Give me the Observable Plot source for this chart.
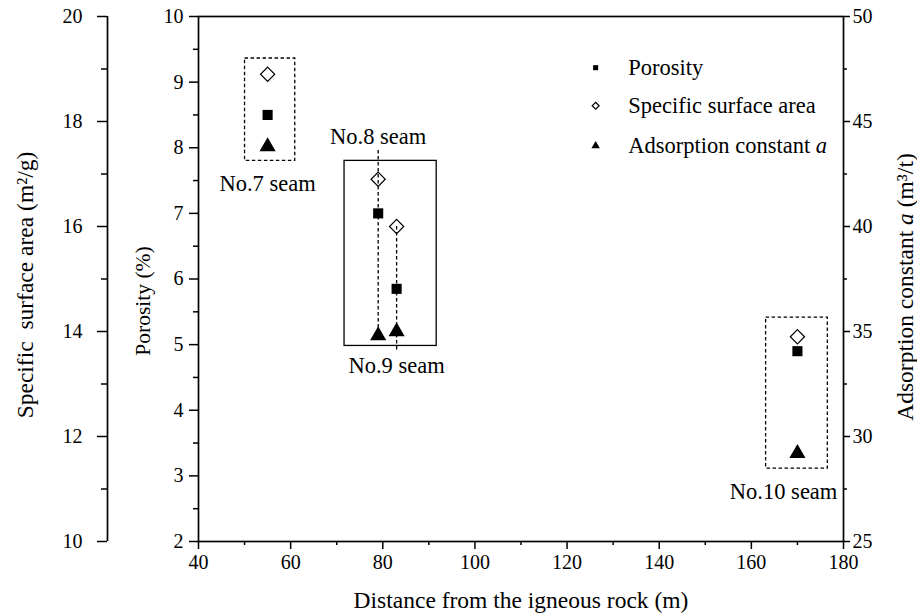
<!DOCTYPE html>
<html>
<head>
<meta charset="utf-8">
<script src="https://cdn.jsdelivr.net/npm/d3@7"></script>
<script src="https://cdn.jsdelivr.net/npm/@observablehq/plot@0.6"></script>
<style>
html, body { margin: 0; padding: 0; background: #fff; }
#chart svg { display: block; }
</style>
</head>
<body>
<div id="chart"></div>
<script>
// ---- data ----
const seams = ["No.7 seam", "No.8 seam", "No.9 seam", "No.10 seam"];
const distance = [55, 79, 83, 170];
const porosity = [8.5, 7.0, 5.85, 4.9];
const surfaceArea = [18.9, 16.9, 16.0, 13.9];
const adsorptionA = [43.8, 34.8, 35.0, 29.2];

// ---- ticks ----
const xTicks = [40, 60, 80, 100, 120, 140, 160, 180];
const xMinorTicks = [50, 70, 90, 110, 130, 150, 170];
const porosityTicks = [2, 3, 4, 5, 6, 7, 8, 9, 10];
const porosityMinorTicks = [2.5, 3.5, 4.5, 5.5, 6.5, 7.5, 8.5, 9.5];
const surfaceTicks = [10, 12, 14, 16, 18, 20];
const surfaceMinorTicks = [11, 13, 15, 17, 19];
const adsorptionTicks = [25, 30, 35, 40, 45, 50];
const adsorptionMinorTicks = [27.5, 32.5, 37.5, 42.5, 47.5];

// ---- legend ----
const legendLabels = ["Porosity", "Specific surface area", "Adsorption constant a"];
const legendSymbols = ["square", "diamond2", "triangle"];
const legendFills = ["black", "none", "black"];

// ---- annotations (distance / porosity units) ----
const dashedBoxX1 = [50.1, 163.2];
const dashedBoxX2 = [61.0, 176.6];
const dashedBoxY1 = [7.8, 3.11];
const dashedBoxY2 = [9.36, 5.41];
const solidBoxX1 = [71.7];
const solidBoxX2 = [91.7];
const solidBoxY1 = [4.98];
const solidBoxY2 = [7.8];
const labelX = [55, 79, 83, 167];
const labelY = [7.45, 8.16, 4.68, 2.75];
const leaderX = [79, 83];
const leaderY1 = [7.96, 6.8];
const leaderY2 = [5.11, 4.91];
const legendX = 126.2, legendTextX = 133.3;
const legendY = [9.22, 8.64, 8.03];

// ---- secondary scale conversions onto the porosity axis (2..10) ----
const sToP = s => 2 + (s - 10) * 8 / 10;
const pToS = p => 10 + (p - 2) * 10 / 8;
const aToP = a => 2 + (a - 25) * 8 / 25;
const pToA = p => 25 + (p - 2) * 25 / 8;

const rows = seams.map((s, i) => ({seam: s, distance: distance[i], porosity: porosity[i], surface: surfaceArea[i], a: adsorptionA[i]}));
const dashedBoxes = dashedBoxX1.map((d, i) => ({x1: d, x2: dashedBoxX2[i], y1: dashedBoxY1[i], y2: dashedBoxY2[i]}));
const solidBoxes = solidBoxX1.map((d, i) => ({x1: d, x2: solidBoxX2[i], y1: solidBoxY1[i], y2: solidBoxY2[i]}));
const labels = seams.map((s, i) => ({text: s, x: labelX[i], y: labelY[i]}));
const leaders = leaderX.map((x, i) => ({x, y1: leaderY1[i], y2: leaderY2[i]}));
const legend = legendLabels.map((l, i) => ({label: l, symbol: legendSymbols[i], fill: legendFills[i], y: legendY[i]}));

const W = 917, H = 615;
const mL = 198, mR = 74, mT = 16, mB = 74;
const FONT = "'Liberation Serif', 'Times New Roman', serif";
const TICK_FS = 20;
const ANN_FS = 22.5;
const TITLE_FS = 23.5;

const chart = Plot.plot({
  width: W, height: H,
  marginLeft: mL, marginRight: mR, marginTop: mT, marginBottom: mB,
  style: {fontFamily: FONT, fontSize: TICK_FS + "px", color: "black", background: "white"},
  x: {domain: [40, 180], label: null},
  y: {domain: [2, 10], label: null},
  symbol: {type: "identity"},
  marks: [
    // x axis
    Plot.axisX({ticks: xTicks, tickSize: 8, tickPadding: 5, strokeWidth: 1.5, fontSize: TICK_FS, label: null, tickFormat: d => String(d)}),
    Plot.axisX({ticks: xMinorTicks, tickSize: 4, strokeWidth: 1.5, label: null, tickFormat: () => ""}),
    // porosity axis (left, on frame)
    Plot.axisY({ticks: porosityTicks, tickSize: 9, tickPadding: 6, strokeWidth: 1.5, fontSize: TICK_FS, label: null, tickFormat: d => String(d)}),
    Plot.axisY({ticks: porosityMinorTicks, tickSize: 5, strokeWidth: 1.5, label: null, tickFormat: () => ""}),
    // specific surface area axis (outer left)
    Plot.ruleX([40], {y1: 2, y2: 10, dx: -91, strokeWidth: 1.7}),
    Plot.axisY({ticks: surfaceTicks.map(sToP), tickSize: 10, tickPadding: 15, dx: -91, strokeWidth: 1.5, fontSize: TICK_FS, label: null, tickFormat: p => String(Math.round(pToS(p)))}),
    Plot.axisY({ticks: surfaceMinorTicks.map(sToP), tickSize: 6, dx: -91, strokeWidth: 1.5, label: null, tickFormat: () => ""}),
    // adsorption axis (right)
    Plot.axisY({anchor: "right", ticks: adsorptionTicks.map(aToP), tickSize: 6, tickPadding: 3, strokeWidth: 1.5, fontSize: TICK_FS, label: null, tickFormat: p => String(Math.round(pToA(p)))}),
    Plot.axisY({anchor: "right", ticks: adsorptionMinorTicks.map(aToP), tickSize: 3, strokeWidth: 1.5, label: null, tickFormat: () => ""}),
    Plot.frame({stroke: "black", strokeWidth: 1.7}),

    // axis titles
    Plot.text(["Specific  surface area (m²/g)"], {frameAnchor: "left", textAnchor: "middle", lineAnchor: "middle", dx: 25 - mL, dy: 6, rotate: -90, fontSize: TITLE_FS, text: d => d}),
    Plot.text(["Porosity (%)"], {frameAnchor: "left", textAnchor: "middle", lineAnchor: "middle", dx: 143 - mL, dy: 22, rotate: -90, fontSize: 21.5, text: d => d}),
    Plot.text(["Adsorption constant a (m³/t)"], {frameAnchor: "right", textAnchor: "middle", lineAnchor: "middle", dx: 905 - (W - mR), dy: 8, rotate: -90, fontSize: TITLE_FS, text: d => d}),
    Plot.text(["Distance from the igneous rock (m)"], {frameAnchor: "bottom", textAnchor: "middle", lineAnchor: "middle", dy: 600 - (H - mB), fontSize: TITLE_FS, text: d => d}),

    // annotation boxes
    Plot.rect(dashedBoxes, {x1: "x1", x2: "x2", y1: "y1", y2: "y2", fill: "none", stroke: "black", strokeWidth: 1.3, strokeDasharray: "3.5,2.5"}),
    Plot.rect(solidBoxes, {x1: "x1", x2: "x2", y1: "y1", y2: "y2", fill: "none", stroke: "black", strokeWidth: 1.3}),
    Plot.ruleX(leaders, {x: "x", y1: "y1", y2: "y2", stroke: "black", strokeWidth: 1.3, strokeDasharray: "3.5,2.5"}),
    Plot.text(labels, {x: "x", y: "y", text: "text", fontSize: ANN_FS}),

    // data
    Plot.dot(rows, {x: "distance", y: d => aToP(d.a), symbol: "triangle", fill: "black", stroke: "none", r: 6}),
    Plot.dot(rows, {x: "distance", y: "porosity", symbol: "square", fill: "black", stroke: "none", r: 5.7}),
    Plot.dot(rows, {x: "distance", y: d => sToP(d.surface), symbol: "diamond2", fill: "none", stroke: "black", strokeWidth: 1.2, r: 6.4}),

    // legend
    Plot.dot(legend, {x: () => legendX, y: "y", symbol: "symbol", fill: "fill", stroke: d => d.fill === "none" ? "black" : "none", strokeWidth: 1.2, r: d => d.symbol === "square" ? 4.4 : 5.3}),
    Plot.text(legend, {x: () => legendTextX, y: "y", text: "label", textAnchor: "start", fontSize: ANN_FS})
  ]
});

// italic "a"
chart.querySelectorAll("text").forEach(t => {
  const s = t.textContent;
  if (s.includes("constant a")) {
    const i = s.indexOf("constant a") + "constant ".length;
    t.textContent = "";
    const ns = "http://www.w3.org/2000/svg";
    const t1 = document.createElementNS(ns, "tspan"); t1.textContent = s.slice(0, i);
    const t2 = document.createElementNS(ns, "tspan"); t2.textContent = "a"; t2.setAttribute("font-style", "italic");
    const t3 = document.createElementNS(ns, "tspan"); t3.textContent = s.slice(i + 1);
    t.append(t1, t2, t3);
  }
});

document.getElementById("chart").appendChild(chart);
</script>
</body>
</html>
